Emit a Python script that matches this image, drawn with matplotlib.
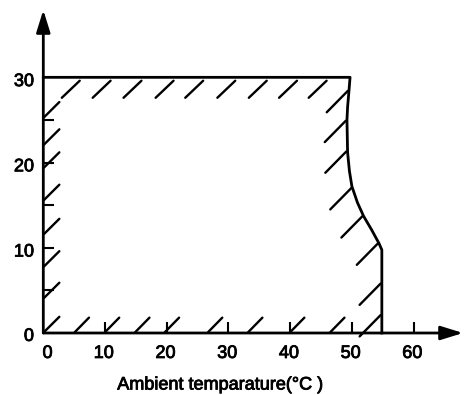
import numpy as np
import matplotlib.pyplot as plt
import matplotlib.patheffects as pe

plt.rcParams['font.family'] = ['Liberation Sans', 'DejaVu Sans']

# outline of the allowed region (ambient temperature, value)
edge_x = [0, 49.7, 49.5, 49.3, 49.2, 49.3, 49.6, 50.0, 50.9, 51.9, 53.2, 54.4, 54.85, 54.85]
edge_y = [30, 30, 28.2, 26.5, 25.0, 21.2, 19.0, 17.2, 15.3, 13.7, 12.1, 10.5, 9.75, 0]

x_ticks = [10, 20, 30, 40, 50, 60]
x_labels = ['0', '10', '20', '30', '40', '50', '60']
y_ticks = [5, 10, 15, 20, 25]
y_labels = ['0', '10', '20', '30']

# where the hand-drawn hatch strokes sit on each edge
top_hatch_x = [5.9, 10.9, 15.9, 21.1, 25.9, 31.1, 36.2, 41.1, 45.9]
left_hatch_y = [25.3, 22.1, 19.4, 15.6, 11.6, 7.8, 4.1, 0.1]
bottom_hatch_x = [5.1, 10.0, 14.9, 19.7, 26.7, 33.2, 40.0, 46.5]
right_hatch_y = [28.4, 24.9, 21.3, 17.0, 13.7, 10.5, 5.8, 2.1]

x_max, y_max = 68.0, 37.9

fig = plt.figure(figsize=(4.65, 3.95), dpi=100)
ax = fig.add_axes([43.3 / 465, 62 / 395, (463 - 43.3) / 465, 323 / 395])
ax.set_xlim(0, x_max)
ax.set_ylim(0, y_max)
for s in ax.spines.values():
    s.set_visible(False)

# axes with arrow heads
arrow = dict(arrowstyle='-|>,head_length=0.9,head_width=0.28', lw=2.0,
             color='black', shrinkA=0, shrinkB=0, mutation_scale=15)
ax.annotate('', xy=(x_max, 0), xytext=(0, 0), arrowprops=arrow,
            annotation_clip=False)
ax.annotate('', xy=(0, y_max), xytext=(0, 0), arrowprops=arrow,
            annotation_clip=False)

# region outline
ax.plot(edge_x, edge_y, color='black', lw=2.0, solid_joinstyle='round',
        clip_on=False)

hatch = dict(color='black', lw=1.7, solid_capstyle='round', clip_on=False)
for x in top_hatch_x:
    ax.plot([x, x - 2.9], [29.6, 27.6], **hatch)
for y in left_hatch_y:
    ax.plot([0.1, 2.6], [y, y + 1.8], **hatch)
for x in bottom_hatch_x:
    ax.plot([x, x + 2.3], [0.1, 1.8], **hatch)
# right side follows the curved edge
ry = np.array(edge_y[1:][::-1])
rx = np.array(edge_x[1:][::-1])
for y in right_hatch_y:
    bx = np.interp(y, ry, rx) - 0.2
    ax.plot([bx, bx - 3.4], [y, y - 2.5], **hatch)

# ticks
ax.set_xticks(x_ticks)
ax.set_xticklabels([])
ax.set_yticks(y_ticks)
ax.set_yticklabels([])
ax.tick_params(direction='in', length=8, width=1.5, color='black')

# slightly heavier text, like the printed original
ink = [pe.withStroke(linewidth=0.6, foreground='black')]
fs = 13
for i, lab in enumerate(x_labels):
    xv = i * 10 + (0.7 if i == 0 else -0.2)
    ax.text(xv, -2.4, lab, ha='center', va='center', fontsize=fs,
            path_effects=ink)
for i, lab in enumerate(y_labels):
    ax.text(-1.5, i * 10 - (0.4 if i == 0 else 0.5), lab, ha='right',
            va='center', fontsize=fs, path_effects=ink)

fig.text(220 / 465, 1 - 385 / 395, 'Ambient temparature(\u00b0C )',
         ha='center', va='center', fontsize=fs, path_effects=ink)

fig.savefig('out.png', dpi=100)
